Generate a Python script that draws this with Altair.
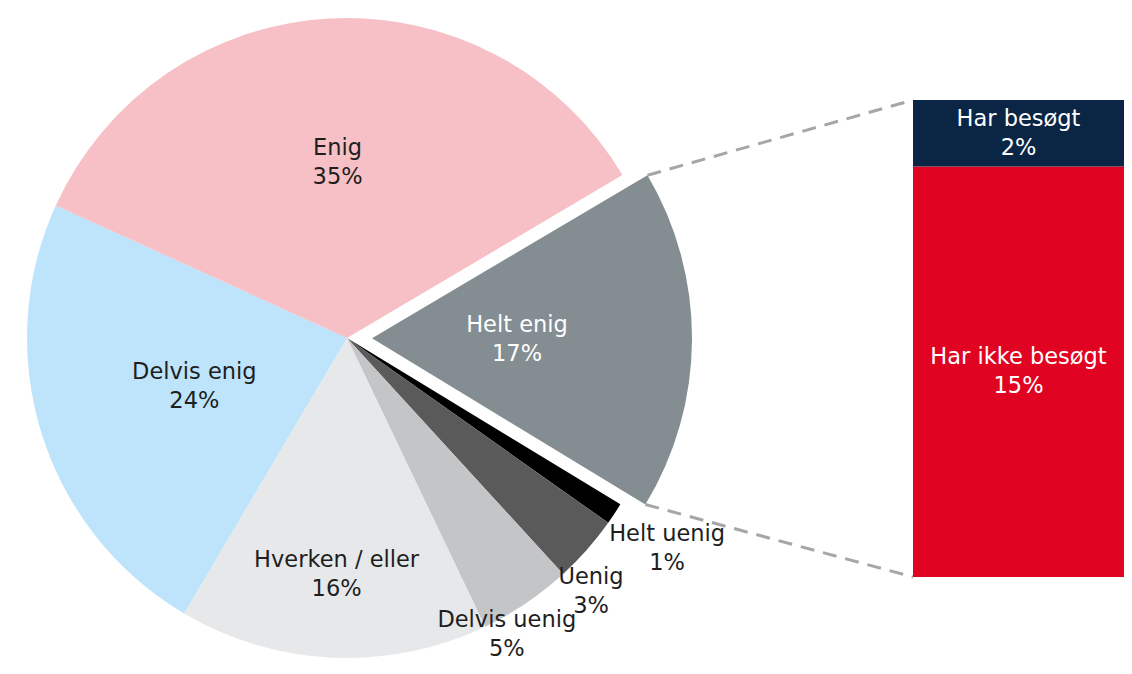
import math
import altair as alt
import pandas as pd

# ---------------- data ----------------
pie_labels = ["Helt enig", "Helt uenig", "Uenig", "Delvis uenig", "Hverken / eller", "Delvis enig", "Enig"]
pie_values = [17.2, 1.1, 3.4, 4.7, 15.6, 23.3, 34.7]
pie_texts = ["17%", "1%", "3%", "5%", "16%", "24%", "35%"]
pie_colors = ["#848E92", "#000000", "#5A5A5A", "#C4C5C7", "#E7E8EA", "#BDE4FB", "#F6C0C6"]

bar_labels = ["Har ikke besøgt", "Har besøgt"]
bar_values = [14.8, 2.4]
bar_texts = ["15%", "2%"]
bar_colors = ["#E00422", "#0B2545"]

# ---------------- layout ----------------
W, H = 1116, 658
CX, CY, R = 339, 330, 320
EXPLODE = 25
START_DEG = 59.4
BAR_X0, BAR_X1 = 905, 1116
BAR_TOP, BAR_BOTTOM = 92, 569
FONT = "DejaVu Sans"
FS = 22.5
LH = 29
SHIFT = -LH / 2  # centre the two-line block
DARK = "#1E1E1E"

# label placement per slice: radius, dx, dy, colour
LABEL_STYLE = {
    "Enig": (176, 0, 0, DARK),
    "Delvis enig": (160, 0, 0, DARK),
    "Hverken / eller": (237, 0, 0, DARK),
    "Delvis uenig": (350, -36, 6, DARK),
    "Uenig": (352, -20, 21, DARK),
    "Helt uenig": (383, 0, 0, DARK),
    "Helt enig": (145, 0, 0, "#FFFFFF"),
}

# ---------------- tables ----------------
total = sum(pie_values)
starts, ends, mids = [], [], []
acc = 0.0
for v in pie_values:
    starts.append(acc)
    mids.append(acc + v / 2)
    acc += v
    ends.append(acc)
pie_df = pd.DataFrame({
    "cat": pie_labels,
    "value": pie_values,
    "start": starts,
    "end": ends,
    "mid": mids,
    "label": [f"{c}\n{t}" for c, t in zip(pie_labels, pie_texts)],
    "color": pie_colors,
})

bar_total = sum(bar_values)
b_starts, b_ends, b_mids = [], [], []
acc = 0.0
for v in bar_values:
    b_starts.append(acc)
    b_mids.append(acc + v / 2)
    acc += v
    b_ends.append(acc)
bar_df = pd.DataFrame({
    "cat": bar_labels,
    "start": b_starts,
    "end": b_ends,
    "mid": b_mids,
    "label": [f"{c}\n{t}" for c, t in zip(bar_labels, bar_texts)],
    "color": bar_colors,
})

# exploded slice geometry (first slice)
a0 = math.radians(START_DEG)
theta_scale = alt.Scale(domain=[0, total], range=[a0, a0 + 2 * math.pi])
ex_mid = a0 + (pie_values[0] / 2) / total * 2 * math.pi
EX = CX + EXPLODE * math.sin(ex_mid)
EY = CY - EXPLODE * math.cos(ex_mid)
a_start = a0
a_end = a0 + pie_values[0] / total * 2 * math.pi
conn_df = pd.DataFrame({
    "x": [EX + R * math.sin(a_start), EX + R * math.sin(a_end)],
    "y": [EY - R * math.cos(a_start), EY - R * math.cos(a_end)],
    "x2": [BAR_X0, BAR_X0],
    "y2": [BAR_TOP, BAR_BOTTOM],
})

# ---------------- layers ----------------
base = alt.Chart(pie_df)

main_arcs = base.transform_filter(alt.datum.cat != pie_labels[0]).mark_arc(radius=R).encode(
    theta=alt.Theta("start:Q", scale=theta_scale, stack=None),
    theta2="end:Q",
    color=alt.Color("color:N", scale=None),
    x=alt.value(CX),
    y=alt.value(CY),
)

explode_arc = base.transform_filter(alt.datum.cat == pie_labels[0]).mark_arc(radius=R).encode(
    theta=alt.Theta("start:Q", scale=theta_scale, stack=None),
    theta2="end:Q",
    color=alt.Color("color:N", scale=None),
    x=alt.value(EX),
    y=alt.value(EY),
)

text_layers = []
for cat in pie_labels:
    rad, dx, dy, col = LABEL_STYLE[cat]
    cx, cy = (EX, EY) if cat == pie_labels[0] else (CX, CY)
    text_layers.append(
        base.transform_filter(alt.datum.cat == cat).mark_text(
            radius=rad, dx=dx, dy=dy + SHIFT, color=col, font=FONT, fontSize=FS,
            lineBreak="\n", lineHeight=LH, align="center", baseline="middle",
        ).encode(
            theta=alt.Theta("mid:Q", scale=theta_scale, stack=None),
            text="label:N",
            x=alt.value(cx),
            y=alt.value(cy),
        )
    )

connectors = alt.Chart(conn_df).mark_rule(
    strokeDash=[14, 9], strokeWidth=3, color="#A6A6A6"
).encode(
    x=alt.X("x:Q", scale=None, axis=None),
    y=alt.Y("y:Q", scale=None, axis=None),
    x2="x2:Q",
    y2="y2:Q",
)

bar_y_scale = alt.Scale(domain=[0, bar_total], range=[BAR_BOTTOM, BAR_TOP])
bars = alt.Chart(bar_df).mark_bar().encode(
    y=alt.Y("start:Q", scale=bar_y_scale, axis=None),
    y2="end:Q",
    x=alt.value(BAR_X0),
    x2=alt.value(BAR_X1),
    color=alt.Color("color:N", scale=None),
)
bar_text = alt.Chart(bar_df).mark_text(
    color="#FFFFFF", font=FONT, fontSize=FS, lineBreak="\n", lineHeight=LH,
    align="center", baseline="middle", dy=SHIFT,
).encode(
    y=alt.Y("mid:Q", scale=bar_y_scale, axis=None),
    x=alt.value((BAR_X0 + BAR_X1) / 2),
    text="label:N",
)

chart = alt.layer(
    main_arcs, explode_arc, connectors, bars, bar_text, *text_layers
).resolve_scale(
    x="independent", y="independent", theta="independent", color="independent"
).properties(
    width=W, height=H, padding=0, autosize=alt.AutoSizeParams(type="none")
).configure_view(stroke=None)

chart.save("out.html", embed_options={"renderer": "svg", "actions": False})
